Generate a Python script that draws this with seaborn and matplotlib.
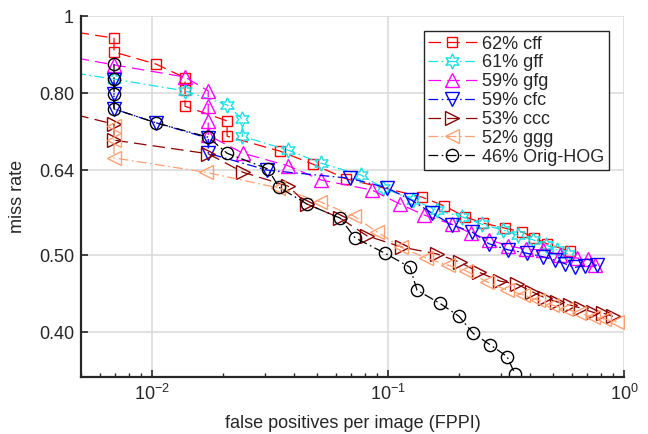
import matplotlib
matplotlib.use("Agg")
import matplotlib.pyplot as plt
from matplotlib.ticker import NullLocator, FixedLocator, FixedFormatter
import seaborn as sns

# values (FPPI, miss rate)
cff_fppi = [0.0040, 0.0069, 0.0069, 0.0104, 0.0138, 0.0138, 0.0138, 0.0208, 0.0208, 0.0349,
            0.0481, 0.0664, 0.139, 0.173, 0.212, 0.253, 0.313, 0.370, 0.416, 0.472, 0.590]
cff_miss = [0.962, 0.938, 0.901, 0.870, 0.836, 0.807, 0.770, 0.738, 0.706, 0.676,
            0.651, 0.624, 0.592, 0.577, 0.559, 0.549, 0.541, 0.535, 0.526, 0.517, 0.506]

gff_fppi = [0.0040, 0.0069, 0.0138, 0.0208, 0.0241, 0.0241, 0.0377, 0.0520, 0.0768, 0.0952,
            0.1276, 0.1613, 0.2059, 0.2502, 0.3072, 0.3555, 0.4115, 0.4672, 0.5201, 0.5790]
gff_miss = [0.854, 0.833, 0.805, 0.773, 0.742, 0.706, 0.678, 0.653, 0.631, 0.608,
            0.587, 0.570, 0.559, 0.547, 0.538, 0.530, 0.523, 0.515, 0.508, 0.502]

gfg_fppi = [0.0040, 0.0069, 0.0138, 0.0173, 0.0173, 0.0173, 0.0173, 0.0243, 0.0377, 0.0520,
            0.0856, 0.1124, 0.1421, 0.1867, 0.2248, 0.2679, 0.3225, 0.3844, 0.4540, 0.5356,
            0.6322, 0.7038, 0.7537]
gfg_miss = [0.894, 0.868, 0.838, 0.805, 0.770, 0.738, 0.708, 0.672, 0.648, 0.622,
            0.604, 0.580, 0.562, 0.547, 0.533, 0.523, 0.514, 0.509, 0.508, 0.500,
            0.496, 0.495, 0.486]

cfc_fppi = [0.0069, 0.0069, 0.0069, 0.0104, 0.0173, 0.0173, 0.0307, 0.0690, 0.0990, 0.1252,
            0.1536, 0.1867, 0.2270, 0.2679, 0.3225, 0.3882, 0.4540, 0.5101, 0.5623, 0.6200,
            0.6834, 0.7683]
cfc_miss = [0.831, 0.798, 0.764, 0.734, 0.702, 0.672, 0.640, 0.625, 0.608, 0.587,
            0.565, 0.546, 0.535, 0.517, 0.508, 0.503, 0.498, 0.493, 0.488, 0.483,
            0.485, 0.486]

ccc_fppi = [0.0040, 0.0069, 0.0069, 0.0173, 0.0243, 0.0377, 0.0454, 0.0626, 0.0815, 0.1146,
            0.1613, 0.2019, 0.2430, 0.2983, 0.3520, 0.4075, 0.4627, 0.5201, 0.5905, 0.6574,
            0.7391, 0.8147, 0.8981]
ccc_miss = [0.761, 0.731, 0.698, 0.671, 0.636, 0.611, 0.580, 0.557, 0.529, 0.512,
            0.502, 0.490, 0.476, 0.464, 0.460, 0.450, 0.442, 0.437, 0.433, 0.429,
            0.424, 0.423, 0.419]

ggg_fppi = [0.0069, 0.0069, 0.0069, 0.0169, 0.0342, 0.0515, 0.0718, 0.0898, 0.1135, 0.1449,
            0.1796, 0.2141, 0.2627, 0.3193, 0.3733, 0.4322, 0.4953, 0.5678, 0.6447, 0.7391,
            0.8226, 0.9339]
ggg_miss = [0.727, 0.698, 0.663, 0.636, 0.608, 0.584, 0.560, 0.535, 0.512, 0.496,
            0.486, 0.478, 0.463, 0.452, 0.446, 0.439, 0.433, 0.428, 0.423, 0.418,
            0.416, 0.412]

hog_fppi = [0.0069, 0.0069, 0.0069, 0.0069, 0.0104, 0.0173, 0.0208, 0.0310, 0.0345, 0.0454,
            0.0626, 0.0725, 0.0971, 0.1240, 0.1327, 0.1661, 0.2000, 0.2292, 0.2705, 0.3193,
            0.3452]
hog_miss = [0.870, 0.833, 0.798, 0.764, 0.734, 0.704, 0.672, 0.642, 0.609, 0.580,
            0.557, 0.526, 0.503, 0.483, 0.452, 0.435, 0.419, 0.399, 0.386, 0.373,
            0.3545]

labels = ["62% cff", "61% gff", "59% gfg", "59% cfc", "53% ccc", "52% ggg", "46% Orig-HOG"]
y_ticks = [0.40, 0.50, 0.64, 0.80, 1.0]
y_tick_labels = ["0.40", "0.50", "0.64", "0.80", "1"]


def main() -> None:
    sns.set_theme(style="white")
    plt.rcParams["font.family"] = ["Liberation Sans", "DejaVu Sans"]
    plt.rcParams["lines.scale_dashes"] = False
    plt.rcParams["mathtext.fontset"] = "custom"
    plt.rcParams["mathtext.rm"] = "Liberation Sans"
    plt.rcParams["mathtext.it"] = "Liberation Sans:italic"

    dashed = (0, (9, 4.5))
    dashdot = (0, (7, 2.5, 1.2, 2.5))
    series = [
        (cff_fppi, cff_miss, "#ff0000", "s", 7.5, dashed),
        (gff_fppi, gff_miss, "#19e0e6", (6, 1, 0), 11, dashdot),
        (gfg_fppi, gfg_miss, "#ff00ff", "^", 9.5, dashed),
        (cfc_fppi, cfc_miss, "#0000ff", "v", 9.5, dashdot),
        (ccc_fppi, ccc_miss, "#8b0000", ">", 9.5, dashed),
        (ggg_fppi, ggg_miss, "#ffa070", "<", 9.5, dashdot),
        (hog_fppi, hog_miss, "#000000", "o", 8.8, dashdot),
    ]

    fig = plt.figure(figsize=(6.48, 4.34), dpi=100)
    ax = fig.add_axes([0.125, 0.1313, 0.838, 0.8318])

    for (fx, my, col, mk, ms, ls), lab in zip(series, labels):
        sns.lineplot(
            x=fx, y=my, sort=False, estimator=None, ax=ax,
            color=col, marker=mk, markersize=ms, markerfacecolor="none",
            markeredgecolor=col, markeredgewidth=1.0, linewidth=0.9,
            linestyle=ls, label=lab,
        )

    ax.set_xscale("log")
    ax.set_yscale("log")
    ax.set_xlim(0.005, 1.0)
    ax.set_ylim(0.3515, 1.0)

    ax.yaxis.set_major_locator(FixedLocator(y_ticks))
    ax.yaxis.set_major_formatter(FixedFormatter(y_tick_labels))
    ax.yaxis.set_minor_locator(NullLocator())

    ax.grid(True, which="major", color="#dcdcdc", linewidth=1.2)
    ax.set_axisbelow(True)
    for side in ["top", "right"]:
        ax.spines[side].set_visible(False)
    for side in ["left", "bottom"]:
        ax.spines[side].set_color("#262626")
        ax.spines[side].set_linewidth(1.6)

    ax.tick_params(which="both", direction="in", colors="#262626", labelsize=13,
                   bottom=True, left=True, top=False, right=False)
    ax.tick_params(which="major", length=5, width=1.2, pad=5)
    ax.tick_params(which="minor", length=3, width=1.0)

    ax.set_xlabel("false positives per image (FPPI)", fontsize=13, color="#262626", labelpad=8)
    ax.set_ylabel("miss rate", fontsize=13, color="#262626", labelpad=9)

    leg = ax.legend(
        loc="upper right", bbox_to_anchor=(0.9724, 0.958), borderaxespad=0,
        fontsize=13, frameon=True, fancybox=False, framealpha=1,
        edgecolor="#262626", handlelength=2.7, handletextpad=0.3,
        labelspacing=0.1, borderpad=0.25, numpoints=1,
    )
    leg.get_frame().set_linewidth(1.0)

    fig.savefig("out.png", dpi=100)
    plt.close(fig)


if __name__ == "__main__":
    main()
